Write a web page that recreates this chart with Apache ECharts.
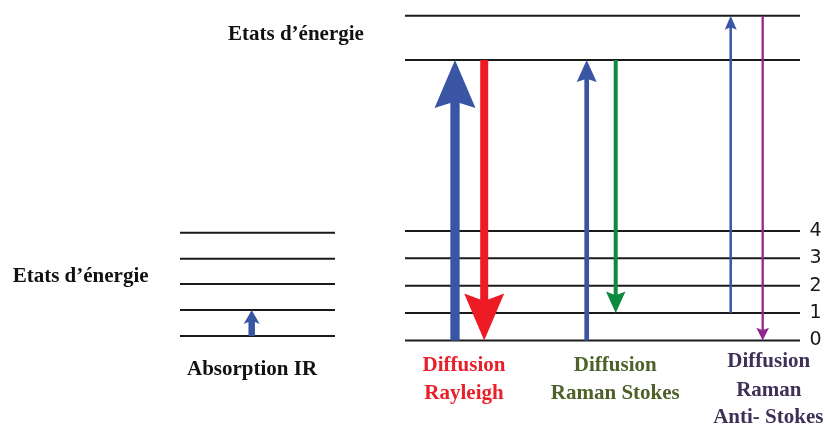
<!DOCTYPE html>
<html>
<head>
<meta charset="utf-8">
<script src="https://cdn.jsdelivr.net/npm/echarts@6/dist/echarts.min.js"></script>
<style>html,body{margin:0;padding:0;background:#fff}#c{width:825px;height:425px}</style>
</head>
<body>
<div id="c"></div>
<script>
// ---- data (energy in level units, x in diagram units) ----
const rightLevels = [0, 1, 2, 3, 4];
const virtualLevels = [10.25, 11.865];
const leftLevels = [0.164, 1.114, 2.064, 2.988, 3.938];
const levelTickLabels = ['0', '1', '2', '3', '4'];
const rightSpan = [40.5, 80];
const leftSpan = [18, 33.5];

const transitionNames = ['Absorption IR', 'Rayleigh up', 'Rayleigh down', 'Stokes up', 'Stokes down', 'Anti-Stokes up', 'Anti-Stokes down'];
const transitionX = [25.17, 45.5, 48.42, 58.67, 61.57, 73.07, 76.27];
const transitionFrom = [0.164, 0, 10.25, 0, 10.25, 1, 11.865];
const transitionTo = [1.114, 10.25, 0, 10.25, 1, 11.865, 0];

// ---- styles ----
const arrowStyle = [
  { color: '#3b55a5', shaft: 6.5, head: 16, len: 14, notch: 2 },
  { color: '#3b55a5', shaft: 9.3, head: 41, len: 48, notch: 5 },
  { color: '#ed1c24', shaft: 8, head: 40, len: 47, notch: 6 },
  { color: '#3b55a5', shaft: 4.7, head: 20, len: 22, notch: 2.5 },
  { color: '#0c8a40', shaft: 4, head: 19.5, len: 21.5, notch: 3 },
  { color: '#3b55a5', shaft: 2.5, head: 12, len: 14, notch: 2 },
  { color: '#92278f', shaft: 2.3, head: 12.7, len: 12.7, notch: 2 }
];

const levelData = [];
rightLevels.forEach(v => levelData.push([rightSpan[0], rightSpan[1], v]));
virtualLevels.forEach(v => levelData.push([rightSpan[0], rightSpan[1], v]));
leftLevels.forEach(v => levelData.push([leftSpan[0], leftSpan[1], v, 1]));

const arrowData = transitionX.map((x, i) => [x, transitionFrom[i], transitionTo[i], i]);

const chart = echarts.init(document.getElementById('c'), null, { renderer: 'canvas' });

const serif = "'Liberation Serif', 'Times New Roman', serif";
function txt(text, x, y, color, align) {
  return {
    type: 'text', x: x, y: y, silent: true,
    style: { text: text, fill: color, font: 'bold 21px ' + serif, align: align || 'center', verticalAlign: 'middle' }
  };
}

chart.setOption({
  animation: false,
  backgroundColor: '#ffffff',
  grid: { left: 0, right: 0, top: 1.05, bottom: 2.4, containLabel: false },
  xAxis: { type: 'value', min: 0, max: 82.5, show: false },
  yAxis: {
    type: 'value', min: -3, max: 12.4, interval: 1, position: 'right',
    axisLine: { show: false }, axisTick: { show: false }, splitLine: { show: false },
    axisLabel: {
      show: true, align: 'left', margin: -15.5,
      color: '#1a1a1a', fontSize: 19, fontFamily: "'DejaVu Sans', sans-serif",
      showMinLabel: false, showMaxLabel: false,
      formatter: function (v) {
        const i = Math.round(v);
        return (Math.abs(v - i) < 1e-6 && i >= 0 && i < levelTickLabels.length) ? levelTickLabels[i] : '';
      }
    }
  },
  series: [
    {
      type: 'custom', name: 'levels', silent: true,
      data: levelData,
      renderItem: function (params, api) {
        const a = api.coord([api.value(0), api.value(2)]);
        const b = api.coord([api.value(1), api.value(2)]);
        const left = api.value(3) === 1;
        return {
          type: 'line',
          shape: { x1: a[0], y1: a[1], x2: b[0], y2: b[1] },
          style: { stroke: left ? '#2a2a2a' : '#1a1a1a', lineWidth: 2 }
        };
      }
    },
    {
      type: 'custom', name: 'transitions', silent: true,
      data: arrowData,
      renderItem: function (params, api) {
        const x = api.value(0);
        const p0 = api.coord([x, api.value(1)]);
        const p1 = api.coord([x, api.value(2)]);
        const s = arrowStyle[api.value(3)];
        const d = p1[1] > p0[1] ? 1 : -1;
        const cx = p0[0];
        const baseY = p1[1] - d * s.len;
        const neckY = p1[1] - d * (s.len - s.notch);
        const hs = s.shaft / 2, hh = s.head / 2;
        return {
          type: 'polygon',
          shape: {
            points: [
              [cx - hs, p0[1]], [cx - hs, neckY], [cx - hh, baseY], [cx, p1[1]],
              [cx + hh, baseY], [cx + hs, neckY], [cx + hs, p0[1]]
            ]
          },
          style: { fill: s.color }
        };
      }
    }
  ],
  graphic: [
    txt('Etats d\u2019énergie', 228, 34.7, '#111', 'left'),
    txt('Etats d\u2019énergie', 12.7, 276.3, '#111', 'left'),
    txt('Absorption IR', 187, 370, '#111', 'left'),
    txt('Diffusion', 464, 365.3, '#e8202a'),
    txt('Rayleigh', 464, 393.6, '#e8202a'),
    txt('Diffusion', 615.3, 365.3, '#4e6128'),
    txt('Raman Stokes', 615.3, 393.6, '#4e6128'),
    txt('Diffusion', 768.8, 361.9, '#3f3058'),
    txt('Raman', 768.8, 390.2, '#3f3058'),
    txt('Anti- Stokes', 768.3, 417.6, '#3f3058')
  ]
});
</script>
</body>
</html>
